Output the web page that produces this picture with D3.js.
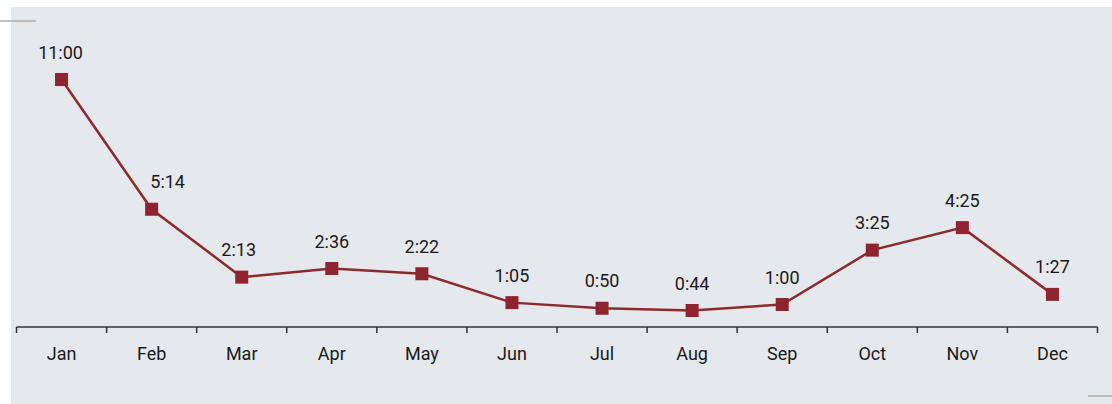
<!DOCTYPE html>
<meta charset="utf-8">
<style>
body { margin: 0; background: #fff; }
text { font-family: 'Roboto', 'Liberation Sans', Arial, sans-serif; fill: #1a1a1a; }
</style>
<body>
<svg width="1112" height="404"></svg>
<script src="https://d3js.org/d3.v7.min.js"></script>
<script>

var months = ["Jan", "Feb", "Mar", "Apr", "May", "Jun", "Jul", "Aug", "Sep", "Oct", "Nov", "Dec"];
var labels = ["11:00", "5:14", "2:13", "2:36", "2:22", "1:05", "0:50", "0:44", "1:00", "3:25", "4:25", "1:27"];
// minutes
var values = [660, 314, 133, 156, 142, 65, 50, 44, 60, 205, 265, 87];
// label nudges to keep clear of the line
var labelShift = [-1, 16, -3, 0, 0, 0, 0, 0, 0, 0, 0, 0];

var svg = d3.select("svg");

svg.append("rect")
    .attr("x", 11).attr("y", 7)
    .attr("width", 1101).attr("height", 397)
    .attr("fill", "#e5e8ed");

// small corner rules
svg.append("line").attr("x1", 0).attr("x2", 36).attr("y1", 21).attr("y2", 21)
    .attr("stroke", "#b3aca4").attr("stroke-width", 1.5);
svg.append("line").attr("x1", 1088).attr("x2", 1112).attr("y1", 396).attr("y2", 396)
    .attr("stroke", "#b3aca4").attr("stroke-width", 1.5);

var x = d3.scaleBand()
    .domain(months)
    .range([16.5, 1097.5]);

var y = d3.scaleLinear()
    .domain([0, 660])
    .range([327, 79.5]);

// axis
var axis = svg.append("g")
    .attr("transform", "translate(0,327)");

axis.append("line")
    .attr("x1", x.range()[0]).attr("x2", x.range()[1])
    .attr("stroke", "#333").attr("stroke-width", 1.5);

var edges = months.map(function(m) { return x(m); }).concat([x.range()[1]]);
axis.selectAll(".tick")
    .data(edges)
  .enter().append("line")
    .attr("x1", function(d) { return d; })
    .attr("x2", function(d) { return d; })
    .attr("y1", 0).attr("y2", 6)
    .attr("stroke", "#333").attr("stroke-width", 1.5);

axis.selectAll(".month")
    .data(months)
  .enter().append("text")
    .attr("x", function(d) { return x(d) + x.bandwidth() / 2; })
    .attr("y", 33)
    .attr("text-anchor", "middle")
    .style("font-size", "18px")
    .text(function(d) { return d; });

var cx = function(d, i) { return x(months[i]) + x.bandwidth() / 2; };

var line = d3.line()
    .x(function(d, i) { return cx(d, i); })
    .y(function(d) { return y(d); });

svg.append("path")
    .datum(values)
    .attr("d", line)
    .attr("fill", "none")
    .attr("stroke", "#8c2a2e")
    .attr("stroke-width", 2.5);

svg.selectAll(".marker")
    .data(values)
  .enter().append("rect")
    .attr("x", function(d, i) { return cx(d, i) - 6.5; })
    .attr("y", function(d) { return y(d) - 6.5; })
    .attr("width", 13).attr("height", 13)
    .attr("fill", "#8f2430");

svg.selectAll(".val")
    .data(values)
  .enter().append("text")
    .attr("x", function(d, i) { return cx(d, i) + labelShift[i]; })
    .attr("y", function(d) { return y(d) - 21; })
    .attr("text-anchor", "middle")
    .style("font-size", "18px")
    .text(function(d, i) { return labels[i]; });

</script>
</body>
